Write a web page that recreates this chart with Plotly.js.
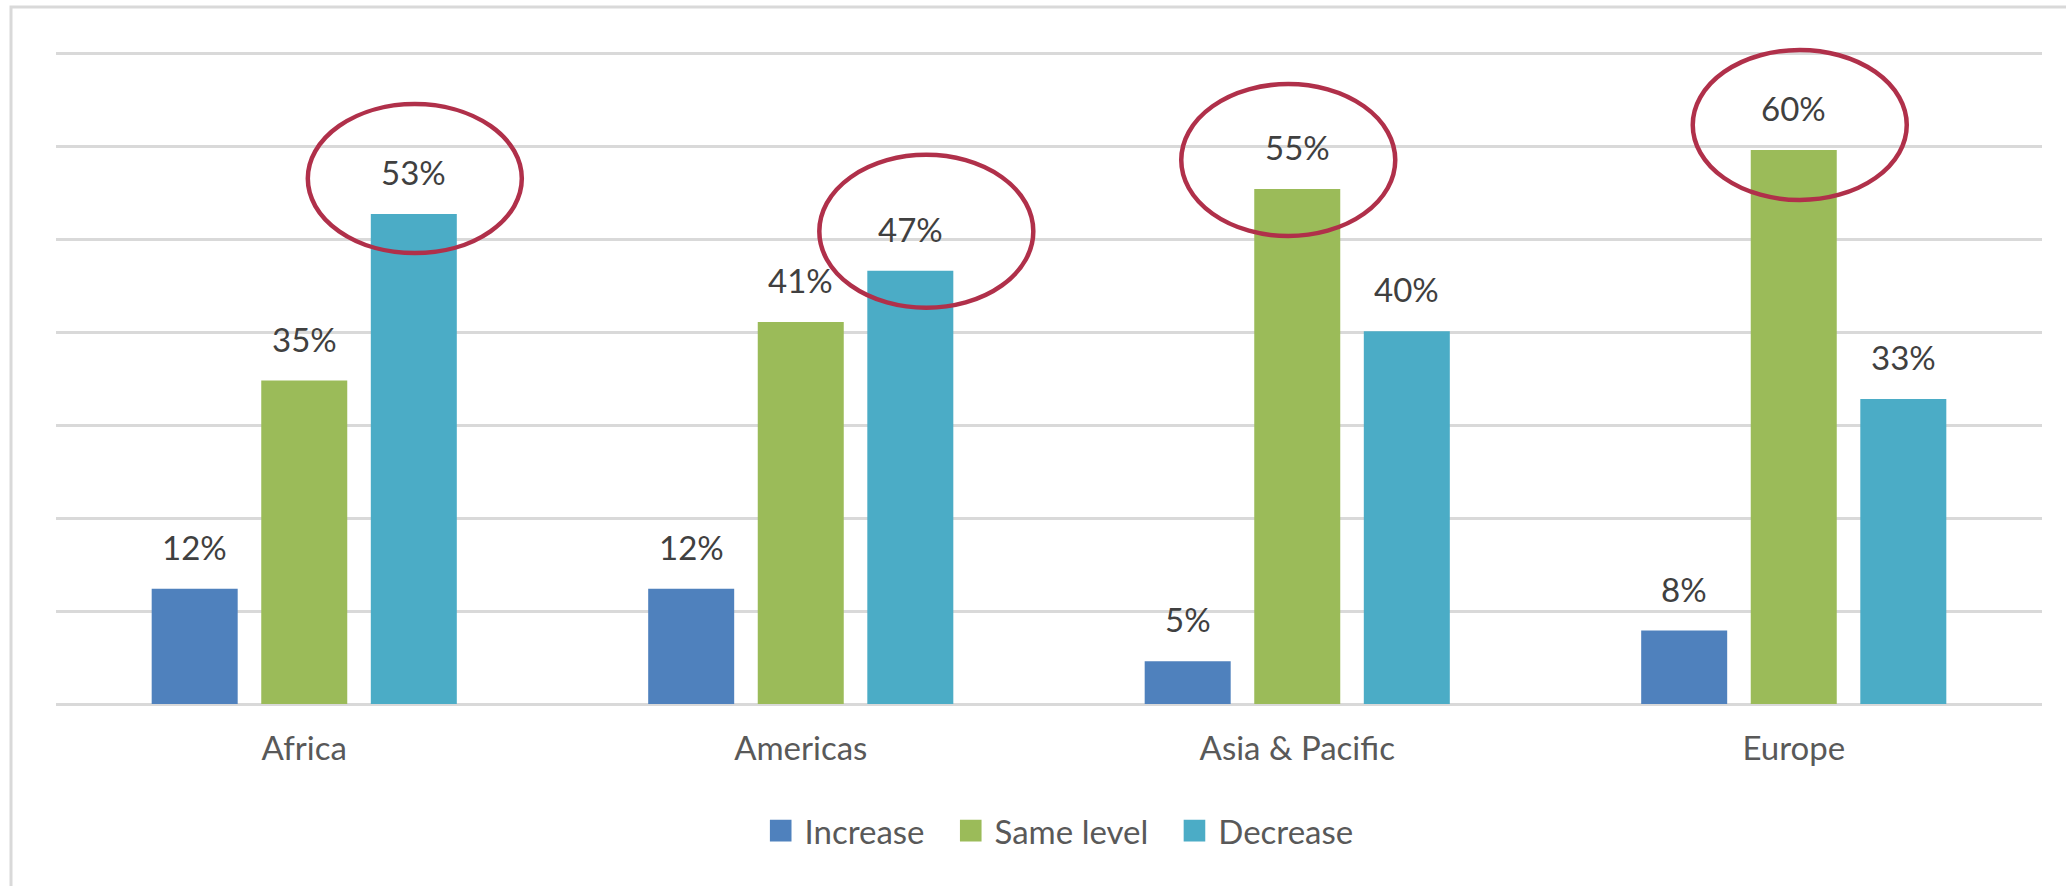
<!DOCTYPE html>
<html>
<head>
<meta charset="utf-8">
<script src="https://cdn.plot.ly/plotly-3.0.1.min.js"></script>
<style>
html,body{margin:0;padding:0;background:#ffffff;}
#chart{width:2066px;height:886px;}
</style>
</head>
<body>
<div id="chart"></div>
<script>
// ---- data ----
const categories = ['Africa', 'Americas', 'Asia & Pacific', 'Europe'];
const seriesNames = ['Increase', 'Same level', 'Decrease'];
const increase  = [12.4, 12.4, 4.6, 7.9];
const sameLevel = [34.8, 41.1, 55.4, 59.6];
const decrease  = [52.7, 46.6, 40.1, 32.8];

// ---- styles ----
const seriesColors = ['#4F81BD', '#9BBB59', '#4BACC6'];
const FONT = 'Lato, "Open Sans", "Liberation Sans", sans-serif';
const FS = 33;
const BARGAP = 0.338, BARGROUPGAP = 0.215;
// hand-drawn highlight ellipses: pixel nudges [dx, below bar top, above bar top]
const ellipseNudges = [[1, 39, 110], [16, 37, 116], [-9, 47, 105], [6, 50, 100]];
const ELLIPSE_HALF_W = 107;

const seriesValues = [increase, sameLevel, decrease];
const nS = seriesValues.length;
const slot = (1 - BARGAP) / nS;

const traces = seriesValues.map((vals, j) => ({
  type: 'bar',
  name: seriesNames[j],
  x: categories,
  y: vals,
  marker: {color: seriesColors[j], line: {width: 0}},
  hoverinfo: 'skip'
}));

// data labels
const annotations = [];
seriesValues.forEach((vals, j) => {
  vals.forEach((v, i) => {
    annotations.push({
      xref: 'x', yref: 'y',
      x: i + (j - (nS - 1) / 2) * slot,
      y: v,
      yshift: 42,
      yanchor: 'middle',
      xanchor: 'center',
      showarrow: false,
      text: Math.round(v) + '%',
      font: {family: FONT, size: FS, color: '#404040'}
    });
  });
});

// highlight ellipses around the largest bar of each category
const shapes = [];
categories.forEach((c, i) => {
  let best = 0;
  for (let j = 1; j < nS; j++) if (seriesValues[j][i] > seriesValues[best][i]) best = j;
  const n = ellipseNudges[i];
  shapes.push({
    type: 'circle', xref: 'x', yref: 'y',
    xsizemode: 'pixel', ysizemode: 'pixel',
    xanchor: i + (best - (nS - 1) / 2) * slot,
    yanchor: seriesValues[best][i],
    x0: n[0] - ELLIPSE_HALF_W, x1: n[0] + ELLIPSE_HALF_W, y0: -n[1], y1: n[2],
    line: {color: '#B0304A', width: 4.5},
    layer: 'above'
  });
});
// outer frame (left/top edges visible)
shapes.push({
  type: 'rect', xref: 'paper', yref: 'paper',
  x0: -0.02266, x1: 1.2, y0: -0.5, y1: 1.0561,
  line: {color: '#D9D9D9', width: 3},
  fillcolor: 'rgba(0,0,0,0)', layer: 'above'
});

const layout = {
  width: 2066, height: 886,
  margin: {l: 56, r: 24, t: 44, b: 182, pad: 0},
  paper_bgcolor: '#ffffff', plot_bgcolor: '#ffffff',
  barmode: 'group', bargap: BARGAP, bargroupgap: BARGROUPGAP,
  font: {family: FONT, size: FS, color: '#595959'},
  showlegend: true,
  legend: {
    orientation: 'h', x: 0.5, xanchor: 'center', y: -0.192, yanchor: 'middle',
    itemwidth: 55,
    font: {family: FONT, size: FS, color: '#595959'},
    bgcolor: 'rgba(0,0,0,0)', itemclick: false, itemdoubleclick: false
  },
  xaxis: {
    type: 'category',
    showgrid: false, showline: false, zeroline: false,
    ticks: 'outside', ticklen: 15, tickcolor: 'rgba(0,0,0,0)',
    tickfont: {family: FONT, size: FS, color: '#595959'},
    fixedrange: true
  },
  yaxis: {
    range: [0, 71], tick0: 0, dtick: 10,
    showticklabels: false, ticks: '',
    showgrid: true, gridcolor: '#D9D9D9', gridwidth: 3,
    zeroline: true, zerolinecolor: '#D9D9D9', zerolinewidth: 3,
    showline: false, fixedrange: true
  },
  annotations: annotations,
  shapes: shapes
};

Plotly.newPlot('chart', traces, layout, {staticPlot: true, displayModeBar: false}).then(() => {
  document.querySelectorAll('#chart .legend g.traces').forEach(item => {
    const path = item.querySelector('.legendpoints path');
    const text = item.querySelector('text.legendtext');
    if (!path || !text) return;
    path.setAttribute('transform', 'scale(1.8)');
    const pr = path.getBoundingClientRect();
    const tr = text.getBoundingClientRect();
    const dx = (tr.left - 13) - pr.right;
    path.setAttribute('transform', 'translate(' + dx.toFixed(1) + ',0) scale(1.8)');
  });
});
</script>
</body>
</html>
